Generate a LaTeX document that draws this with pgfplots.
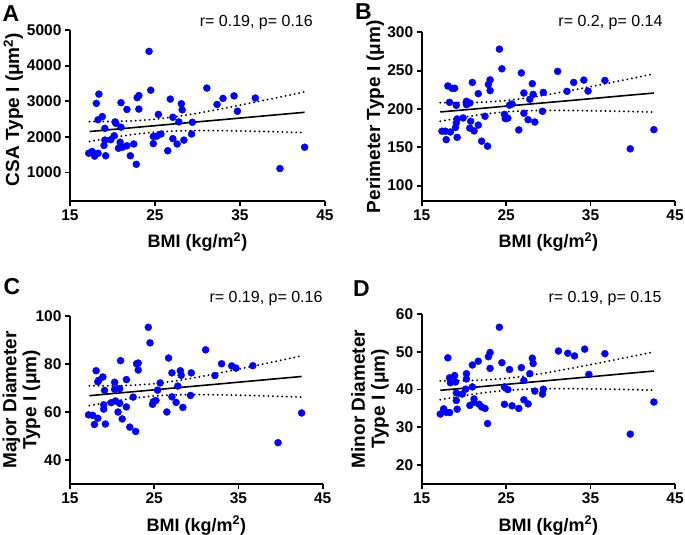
\documentclass[border=0pt]{standalone}
\usepackage{fontspec}
\setmainfont{Liberation Sans}
\usepackage{pgfplots}
\usepackage{pgfplotstable}
\pgfplotsset{compat=1.18}

% ---- scatter data (BMI, value) ----
\pgfplotstableread{
bmi val
17.2 1540
17.6 1590
17.9 1460
18.3 1540
18.1 2940
18.4 3200
18.3 2480
18.8 2570
19.1 2240
19.1 1910
19.0 1760
19.2 1470
19.8 1920
20.2 2030
20.3 2420
20.4 2380
21.0 2960
21.0 2270
20.9 1850
20.7 1680
21.2 1710
21.7 1750
21.7 2770
22.1 1470
22.5 1800
22.8 1230
22.9 3100
23.1 3160
23.1 2780
24.3 4400
24.5 3310
24.8 2010
24.8 1810
25.2 2020
25.4 2630
25.7 2080
26.5 1610
26.8 3060
27.1 2550
27.1 1950
27.6 1800
27.8 2420
28.1 2930
28.2 2760
28.4 1910
29.3 2080
29.4 2410
31.1 3370
32.3 2910
33.0 3080
34.3 3150
34.7 2720
36.8 3090
39.7 1110
42.6 1710
}\csa

\pgfplotstableread{
bmi val
17.4 171
17.8 171
18.4 170
17.9 160
18.1 230
18.6 227
18.9 227
18.3 208.7
19.1 204.8
19.2 187
19.1 181.8
19.0 175.8
19.2 163
19.9 188.3
20.3 210
20.3 205.6
20.7 207.8
20.8 184
20.7 175
21.2 171.4
21.0 234.6
21.7 220
21.7 179
22.1 158
22.5 190.5
22.8 151.5
22.9 232
23.1 238
23.1 224
24.2 278
24.5 252.4
24.8 193
24.9 187.4
25.2 188
25.4 205
25.7 206.5
26.5 172.7
26.8 247
27.1 220.8
27.1 194.4
27.6 186
27.8 212.6
28.1 233
28.2 219
28.4 183
29.3 197
29.4 221.6
31.1 249
32.2 223
33.0 234.6
34.2 237.7
34.7 223.4
36.7 237.2
39.7 148
42.5 173
}\perim

\pgfplotstableread{
bmi val
17.2 58.8
17.7 58.6
17.9 54.8
18.3 57.4
18.1 77.2
18.3 72.6
18.4 73.2
18.9 74.6
19.1 69.0
19.0 63.0
19.0 61.2
19.2 55.0
19.9 63.9
20.3 72.4
20.3 69.4
20.7 60.0
20.4 64.6
20.9 63.6
20.9 69.7
21.0 81.4
21.2 57.1
21.7 73.5
21.7 62.1
22.1 53.7
22.5 66.2
22.8 51.9
22.9 80.1
23.1 80.4
23.1 77.5
24.3 95.3
24.5 88.8
24.8 63.2
24.9 64.3
25.2 64.8
25.4 69.1
25.7 72.1
26.5 60.0
26.7 82.5
27.1 76.3
27.1 66.3
27.6 64.0
27.8 70.8
28.1 77.2
28.2 75.3
28.4 61.9
29.3 66.9
29.4 76.3
31.1 85.9
32.2 75.2
33.0 80.1
34.2 79.2
34.7 78.3
36.7 79.3
39.7 47.2
42.5 59.6
}\major

\pgfplotstableread{
bmi val
17.2 33.5
17.6 34.9
17.9 34.0
18.3 33.9
18.1 48.4
18.3 43.1
18.4 41.8
18.9 43.7
19.0 42.0
19.1 39.1
19.1 37.1
19.2 34.8
19.8 38.8
20.3 44.2
20.3 42.8
20.2 40.1
21.0 46.5
21.0 40.7
20.7 35.8
21.2 37.5
21.2 36.6
21.7 47.5
21.8 36.1
22.1 35.4
22.5 35.0
22.8 31.0
22.9 48.7
23.1 49.8
23.1 45.6
24.2 56.5
24.5 47.1
24.8 40.7
24.8 36.1
25.2 40.0
25.4 45.3
25.7 35.7
26.5 35.0
26.8 45.8
27.1 42.4
27.1 37.3
27.6 36.2
27.8 44.2
28.1 48.3
28.2 46.9
28.4 39.6
29.3 38.8
29.4 40.1
31.2 50.2
32.3 49.6
33.1 48.9
34.3 50.7
34.8 44.0
36.7 49.5
39.7 28.2
42.5 36.7
}\minor

% ---- regression line and 95% bands ----
\pgfplotstableread{
bmi fit up lo
17.3 2150 2430 1870
20.0 2208 2432 1984
22.5 2261 2450 2072
25.0 2314 2494 2134
27.5 2368 2568 2168
30.0 2421 2664 2178
33.0 2485 2796 2174
36.0 2549 2937 2161
39.0 2613 3082 2144
42.6 2690 3260 2120
}\csafit

\pgfplotstableread{
bmi fit up lo
17.2 196.1 208.2 184.0
20.0 198.8 208.2 189.4
22.5 201.2 208.9 193.5
25.0 203.7 211.0 196.4
27.5 206.1 214.4 197.8
30.0 208.5 218.8 198.2
33.0 211.4 224.8 198.0
36.0 214.4 231.3 197.5
39.0 217.4 237.9 196.9
42.5 220.8 245.7 195.9
}\perimfit

\pgfplotstableread{
bmi fit up lo
17.3 66.80 70.95 62.65
20.0 67.66 70.92 64.40
22.5 68.45 71.14 65.76
25.0 69.24 71.78 66.70
27.5 70.04 72.92 67.16
30.0 70.83 74.40 67.26
33.0 71.78 76.41 67.15
36.0 72.74 78.57 66.91
39.0 73.69 80.78 66.60
42.5 74.80 83.40 66.20
}\majorfit

\pgfplotstableread{
bmi fit up lo
17.2 39.80 42.30 37.30
20.0 40.36 42.33 38.39
22.5 40.87 42.53 39.21
25.0 41.37 42.94 39.80
27.5 41.88 43.64 40.12
30.0 42.38 44.53 40.23
33.0 42.99 45.75 40.23
36.0 43.59 47.03 40.15
39.0 44.20 48.37 40.03
42.5 44.90 49.95 39.85
}\minorfit

\pgfplotsset{
  bmipanel/.style={
    scale only axis, anchor=south west,
    axis lines=left, axis line style={line width=1.8pt, -},
    tick style={black, line width=1.8pt},
    tick align=outside, major tick length=5pt,
    xmin=15, xmax=45, xtick={15,25,35,45},
    scaled y ticks=false,
    /pgf/number format/1000 sep={},
    /pgf/number format/assume math mode=true,
    ticklabel style={font=\fontsize{15.5}{15.5}\selectfont\bfseries},
    xlabel={BMI (kg/m\textsuperscript{2})},
    xlabel style={font=\fontsize{18}{20}\selectfont\bfseries,
                  at={(axis description cs:0.5,0)}, anchor=base, yshift=-47pt},
    ylabel style={font=\fontsize{19}{20}\selectfont\bfseries, align=center, anchor=center},
    clip=false,
  },
  pts/.style={only marks, mark=*, mark size=3.5pt, mark options={draw=blue, fill=blue}},
  fit/.style={black, line width=1.6pt, no marks},
  band/.style={black, line width=2.1pt, line cap=round, dash pattern=on 0.01pt off 4.6pt, no marks},
}

\begin{document}
\begin{tikzpicture}
\useasboundingbox (0,0) rectangle (685pt,535pt);

% A
\begin{axis}[bmipanel, at={(70pt,334pt)}, width=255pt, height=171pt,
    ymin=200, ymax=5000, ytick={1000,2000,3000,4000,5000},
    ylabel={CSA Type I (μm\textsuperscript{2})},
    ylabel style={at={(axis description cs:-0.222,0.535)}}]
\addplot[pts] table[x=bmi, y=val] {\csa};
\addplot[fit] table[x=bmi, y=fit] {\csafit};
\addplot[band] table[x=bmi, y=up] {\csafit};
\addplot[band] table[x=bmi, y=lo] {\csafit};
\end{axis}

% B
\begin{axis}[bmipanel, at={(421.7pt,334pt)}, width=253.3pt, height=168.7pt,
    ymin=80, ymax=300, ytick={100,150,200,250,300},
    ylabel={Perimeter Type I (μm)},
    ylabel style={at={(axis description cs:-0.184,0.5)}}]
\addplot[pts] table[x=bmi, y=val] {\perim};
\addplot[fit] table[x=bmi, y=fit] {\perimfit};
\addplot[band] table[x=bmi, y=up] {\perimfit};
\addplot[band] table[x=bmi, y=lo] {\perimfit};
\end{axis}

% C
\begin{axis}[bmipanel, at={(70pt,51pt)}, width=252.7pt, height=168pt,
    ymin=30, ymax=100, ytick={40,60,80,100},
    ylabel={Major Diameter\\Type I (μm)},
    ylabel style={at={(axis description cs:-0.192,0.5)}}]
\addplot[pts] table[x=bmi, y=val] {\major};
\addplot[fit] table[x=bmi, y=fit] {\majorfit};
\addplot[band] table[x=bmi, y=up] {\majorfit};
\addplot[band] table[x=bmi, y=lo] {\majorfit};
\end{axis}

% D
\begin{axis}[bmipanel, at={(421.7pt,51pt)}, width=253.3pt, height=170pt,
    ymin=15, ymax=60, ytick={20,30,40,50,60},
    ylabel={Minor Diameter\\Type I (μm)},
    ylabel style={at={(axis description cs:-0.204,0.5)}}]
\addplot[pts] table[x=bmi, y=val] {\minor};
\addplot[fit] table[x=bmi, y=fit] {\minorfit};
\addplot[band] table[x=bmi, y=up] {\minorfit};
\addplot[band] table[x=bmi, y=lo] {\minorfit};
\end{axis}

% panel letters and statistics
\begin{scope}[every node/.style={inner sep=0pt}]
\node[anchor=north west, font=\fontsize{23}{23}\selectfont\bfseries] at (2.5pt,530pt) {A};
\node[anchor=north west, font=\fontsize{23}{23}\selectfont\bfseries] at (355pt,531.7pt) {B};
\node[anchor=north west, font=\fontsize{23}{23}\selectfont\bfseries] at (3.3pt,256.7pt) {C};
\node[anchor=north west, font=\fontsize{23}{23}\selectfont\bfseries] at (353pt,255pt) {D};
\node[anchor=base east, font=\fontsize{16}{16}\selectfont] at (313pt,508pt) {r= 0.19, p= 0.16};
\node[anchor=base east, font=\fontsize{16}{16}\selectfont] at (662.7pt,508pt) {r= 0.2, p= 0.14};
\node[anchor=base east, font=\fontsize{16}{16}\selectfont] at (322.7pt,232.3pt) {r= 0.19, p= 0.16};
\node[anchor=base east, font=\fontsize{16}{16}\selectfont] at (661.7pt,232.3pt) {r= 0.19, p= 0.15};
\end{scope}
\end{tikzpicture}
\end{document}
